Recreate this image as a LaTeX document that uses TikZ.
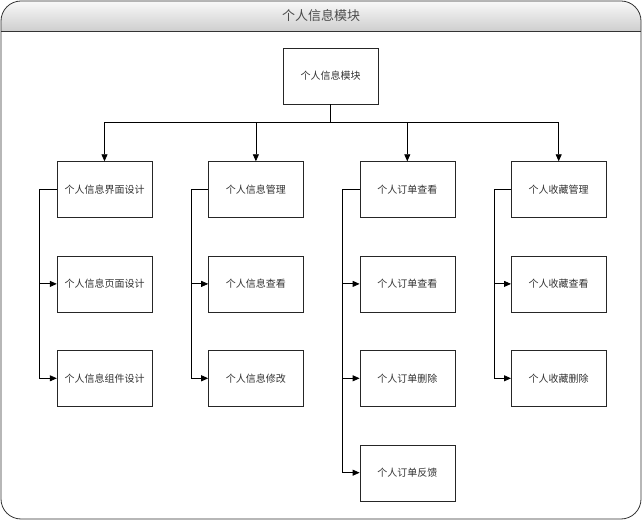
\documentclass[tikz,border=0pt]{standalone}
\usepackage{fontspec}
\newfontfamily\cjk{Noto Sans CJK SC}
\usetikzlibrary{arrows.meta,positioning}

\begin{document}
\begin{tikzpicture}[
  x=1pt, y=1pt,
  >={Triangle[length=7pt,width=6pt]},
  node distance=38pt and 56pt,
  box/.style={draw=black!85, fill=white, minimum width=95pt, minimum height=56pt,
    inner sep=1pt, font=\cjk\fontsize{10}{12}\selectfont, text=black!80},
  line/.style={thick, black},
  arr/.style={line, ->},
]
\useasboundingbox (0,0) rectangle (643,-521);

% Frame and title bar
\shade[top color=gray!5, bottom color=gray!38]
  (1,-31) -- (1,-21) arc[start angle=180, end angle=90, radius=20]
  -- (621,-1) arc[start angle=90, end angle=0, radius=20] -- (641,-31) -- cycle;
\draw[black!80, thick, rounded corners=20pt] (1,-1) rectangle (641,-519);
\draw[black!80, thick] (1,-31) -- (641,-31);
\node[font=\cjk\fontsize{13}{15}\selectfont, text=black!70] (title) at (321,-16) {个人信息模块};

% Root
\node[box] (root) at (330.5,-76) {个人信息模块};

% First row
\node[box] (a1) at (104.5,-189.5) {个人信息界面设计};
\node[box, right=of a1] (b1) {个人信息管理};
\node[box, right=of b1] (c1) {个人订单查看};
\node[box, right=of c1] (d1) {个人收藏管理};

% Children
\node[box, below=of a1] (a2) {个人信息页面设计};
\node[box, below=of a2] (a3) {个人信息组件设计};
\node[box, below=of b1] (b2) {个人信息查看};
\node[box, below=of b2] (b3) {个人信息修改};
\node[box, below=of c1] (c2) {个人订单查看};
\node[box, below=of c2] (c3) {个人订单删除};
\node[box, below=of c3] (c4) {个人订单反馈};
\node[box, below=of d1] (d2) {个人收藏查看};
\node[box, below=of d2] (d3) {个人收藏删除};

% Bus from root
\draw[line] (root.south) -- ++(0,-18) coordinate (bus);
\draw[line] (bus -| a1) -- (bus -| d1);
\foreach \n in {a1,b1,c1,d1}
  \draw[arr] (bus -| \n) -- (\n.north);

% Side connectors
\draw[line] (a1.west) -- ++(-17,0) coordinate (a0);
\draw[line] (b1.west) -- ++(-17,0) coordinate (b0);
\draw[line] (c1.west) -- ++(-17,0) coordinate (c0);
\draw[line] (d1.west) -- ++(-17,0) coordinate (d0);
\draw[arr] (a0) |- (a2.west);
\draw[arr] (a0) |- (a3.west);
\draw[arr] (b0) |- (b2.west);
\draw[arr] (b0) |- (b3.west);
\draw[arr] (c0) |- (c2.west);
\draw[arr] (c0) |- (c3.west);
\draw[arr] (c0) |- (c4.west);
\draw[arr] (d0) |- (d2.west);
\draw[arr] (d0) |- (d3.west);
\end{tikzpicture}
\end{document}
